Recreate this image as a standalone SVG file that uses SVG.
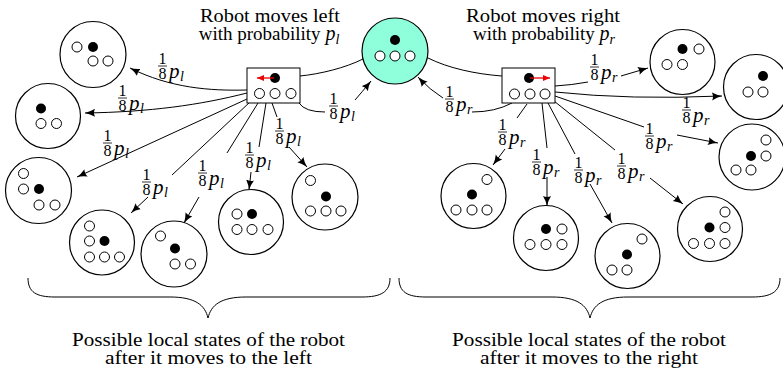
<svg xmlns="http://www.w3.org/2000/svg" width="783" height="370" viewBox="0 0 783 370" font-family="'Liberation Serif','DejaVu Serif','Times New Roman',serif">
<style>
.big{fill:#fff;stroke:#000;stroke-width:1.2}
.cen{fill:#8effda;stroke:#000;stroke-width:1.2}
.w{fill:#fff;stroke:#000;stroke-width:1}
.b{fill:#000}
.box{fill:#fff;stroke:#000;stroke-width:1}
.ln{fill:none;stroke:#000;stroke-width:1}
.ar{fill:none;stroke:#000;stroke-width:1;marker-end:url(#ah)}
.red{fill:none;stroke:#e00;stroke-width:1.3;marker-end:url(#rh)}
text{font-family:'Liberation Serif','DejaVu Serif','Times New Roman',serif;fill:#000}
.t{font-size:19px}
.lab{font-size:16px}
.fr{font-size:16px}
.pv{font-size:21px;font-style:italic}
.sb{font-size:14px;font-style:italic}
.bar{stroke:#000;stroke-width:0.8}
</style>
<defs>
<marker id="ah" markerWidth="12" markerHeight="10" refX="10" refY="4" orient="auto" markerUnits="userSpaceOnUse"><path d="M0,0 Q5,3 10,4 Q5,5 0,8 Q2,4 0,0 Z" fill="#000"/></marker>
<marker id="rh" markerWidth="9" markerHeight="8" refX="7" refY="3" orient="auto" markerUnits="userSpaceOnUse"><path d="M0,0 L7,3 L0,6 Z" fill="#e00"/></marker>
</defs>

<g id="connectors">
<path class="ln" d="M300,76 C320,74 345,68 363,59"/>
<path class="ln" d="M428,58 C448,68 475,74 502,76"/>
<path class="ln" d="M299,103 Q305,112 325,112"/>
<path class="ar" d="M355,100 Q362,92 371,81"/>
<path class="ln" d="M512,103 Q495,112 472,112"/>
<path class="ar" d="M443,98 Q430,90 418,77"/>
<path class="ar" d="M247,90 C210,91 170,88 130,68"/>
<path class="ar" d="M247,93 C200,105 150,112 85,113"/>
<path class="ar" d="M247,99 L77,177"/>
<path class="ln" d="M250,102 L172,175"/>
<path class="ar" d="M148,197 L131,213"/>
<path class="ln" d="M258,103 L227,153"/>
<path class="ar" d="M199,197 L184,223"/>
<path class="ln" d="M266,103 L259,147"/>
<path class="ar" d="M251,172 L249,190"/>
<path class="ln" d="M272,103 L277,117"/>
<path class="ar" d="M289,147 L307,167"/>
<path class="ln" d="M555,86 Q572,85 588,82"/>
<path class="ar" d="M621,76 L648,68"/>
<path class="ar" d="M555,92 Q630,100 722,96"/>
<path class="ln" d="M555,96 L644,127"/>
<path class="ar" d="M677,135 L718,143"/>
<path class="ln" d="M527,104 L517,118"/>
<path class="ar" d="M505,149 L493,165"/>
<path class="ln" d="M542,103 L547,148"/>
<path class="ar" d="M547,177 L547,206"/>
<path class="ln" d="M548,103 L575,154"/>
<path class="ar" d="M590,184 L612,223"/>
<path class="ln" d="M554,101 L615,150"/>
<path class="ar" d="M650,178 L683,204"/>
</g>

<g id="labels">
<g transform="translate(158,66)"><line class="bar" x1="0" y1="0" x2="9" y2="0"/><text class="lab"><tspan x="0.5" y="-2">1</tspan><tspan x="0.5" y="12.5">8</tspan><tspan class="pv" x="11" y="11.5">p</tspan><tspan class="sb" x="22" y="15">l</tspan></text></g>
<g transform="translate(118,98)"><line class="bar" x1="0" y1="0" x2="9" y2="0"/><text class="lab"><tspan x="0.5" y="-2">1</tspan><tspan x="0.5" y="12.5">8</tspan><tspan class="pv" x="11" y="11.5">p</tspan><tspan class="sb" x="22" y="15">l</tspan></text></g>
<g transform="translate(103,143)"><line class="bar" x1="0" y1="0" x2="9" y2="0"/><text class="lab"><tspan x="0.5" y="-2">1</tspan><tspan x="0.5" y="12.5">8</tspan><tspan class="pv" x="11" y="11.5">p</tspan><tspan class="sb" x="22" y="15">l</tspan></text></g>
<g transform="translate(142,182)"><line class="bar" x1="0" y1="0" x2="9" y2="0"/><text class="lab"><tspan x="0.5" y="-2">1</tspan><tspan x="0.5" y="12.5">8</tspan><tspan class="pv" x="11" y="11.5">p</tspan><tspan class="sb" x="22" y="15">l</tspan></text></g>
<g transform="translate(198,173)"><line class="bar" x1="0" y1="0" x2="9" y2="0"/><text class="lab"><tspan x="0.5" y="-2">1</tspan><tspan x="0.5" y="12.5">8</tspan><tspan class="pv" x="11" y="11.5">p</tspan><tspan class="sb" x="22" y="15">l</tspan></text></g>
<g transform="translate(245,155)"><line class="bar" x1="0" y1="0" x2="9" y2="0"/><text class="lab"><tspan x="0.5" y="-2">1</tspan><tspan x="0.5" y="12.5">8</tspan><tspan class="pv" x="11" y="11.5">p</tspan><tspan class="sb" x="22" y="15">l</tspan></text></g>
<g transform="translate(275,131)"><line class="bar" x1="0" y1="0" x2="9" y2="0"/><text class="lab"><tspan x="0.5" y="-2">1</tspan><tspan x="0.5" y="12.5">8</tspan><tspan class="pv" x="11" y="11.5">p</tspan><tspan class="sb" x="22" y="15">l</tspan></text></g>
<g transform="translate(329,106)"><line class="bar" x1="0" y1="0" x2="9" y2="0"/><text class="lab"><tspan x="0.5" y="-2">1</tspan><tspan x="0.5" y="12.5">8</tspan><tspan class="pv" x="11" y="11.5">p</tspan><tspan class="sb" x="22" y="15">l</tspan></text></g>
<g transform="translate(590,67)"><line class="bar" x1="0" y1="0" x2="9" y2="0"/><text class="lab"><tspan x="0.5" y="-2">1</tspan><tspan x="0.5" y="12.5">8</tspan><tspan class="pv" x="11" y="11.5">p</tspan><tspan class="sb" x="22" y="15">r</tspan></text></g>
<g transform="translate(682,110)"><line class="bar" x1="0" y1="0" x2="9" y2="0"/><text class="lab"><tspan x="0.5" y="-2">1</tspan><tspan x="0.5" y="12.5">8</tspan><tspan class="pv" x="11" y="11.5">p</tspan><tspan class="sb" x="22" y="15">r</tspan></text></g>
<g transform="translate(645,136)"><line class="bar" x1="0" y1="0" x2="9" y2="0"/><text class="lab"><tspan x="0.5" y="-2">1</tspan><tspan x="0.5" y="12.5">8</tspan><tspan class="pv" x="11" y="11.5">p</tspan><tspan class="sb" x="22" y="15">r</tspan></text></g>
<g transform="translate(498,132)"><line class="bar" x1="0" y1="0" x2="9" y2="0"/><text class="lab"><tspan x="0.5" y="-2">1</tspan><tspan x="0.5" y="12.5">8</tspan><tspan class="pv" x="11" y="11.5">p</tspan><tspan class="sb" x="22" y="15">r</tspan></text></g>
<g transform="translate(532,162)"><line class="bar" x1="0" y1="0" x2="9" y2="0"/><text class="lab"><tspan x="0.5" y="-2">1</tspan><tspan x="0.5" y="12.5">8</tspan><tspan class="pv" x="11" y="11.5">p</tspan><tspan class="sb" x="22" y="15">r</tspan></text></g>
<g transform="translate(574,170)"><line class="bar" x1="0" y1="0" x2="9" y2="0"/><text class="lab"><tspan x="0.5" y="-2">1</tspan><tspan x="0.5" y="12.5">8</tspan><tspan class="pv" x="11" y="11.5">p</tspan><tspan class="sb" x="22" y="15">r</tspan></text></g>
<g transform="translate(617,166)"><line class="bar" x1="0" y1="0" x2="9" y2="0"/><text class="lab"><tspan x="0.5" y="-2">1</tspan><tspan x="0.5" y="12.5">8</tspan><tspan class="pv" x="11" y="11.5">p</tspan><tspan class="sb" x="22" y="15">r</tspan></text></g>
<g transform="translate(445,99)"><line class="bar" x1="0" y1="0" x2="9" y2="0"/><text class="lab"><tspan x="0.5" y="-2">1</tspan><tspan x="0.5" y="12.5">8</tspan><tspan class="pv" x="11" y="11.5">p</tspan><tspan class="sb" x="22" y="15">r</tspan></text></g>
</g>

<g id="center">
<circle class="cen" cx="395" cy="51" r="33"/>
<circle class="b" cx="395" cy="40" r="5"/>
<circle class="w" cx="380" cy="56" r="5"/><circle class="w" cx="395" cy="56" r="5"/><circle class="w" cx="410" cy="56" r="5"/>
</g>

<g id="boxL">
<rect class="box" x="247" y="68" width="53" height="35"/>
<circle class="b" cx="275" cy="78" r="5"/>
<path class="red" d="M274,78 L257,78"/>
<circle class="w" cx="259.5" cy="93.5" r="5"/><circle class="w" cx="275" cy="93.5" r="5"/><circle class="w" cx="291" cy="93.5" r="5"/>
</g>
<g id="boxR">
<rect class="box" x="502" y="68" width="53" height="35"/>
<circle class="b" cx="529" cy="78" r="5"/>
<path class="red" d="M530,78 L550,78"/>
<circle class="w" cx="514.5" cy="94" r="5"/><circle class="w" cx="530" cy="94" r="5"/><circle class="w" cx="545" cy="94" r="5"/>
</g>

<g id="L1"><circle class="big" cx="93" cy="54.5" r="33"/><circle class="w" cx="77" cy="47" r="5"/><circle class="b" cx="93" cy="47" r="5"/><circle class="w" cx="93" cy="61" r="5"/><circle class="w" cx="108" cy="61" r="5"/></g>
<g id="L2"><circle class="big" cx="48" cy="116" r="32.5"/><circle class="b" cx="41" cy="108.5" r="5"/><circle class="w" cx="41" cy="123.5" r="5"/><circle class="w" cx="56.5" cy="123.5" r="5"/></g>
<g id="L3"><circle class="big" cx="38.5" cy="190.5" r="33"/><circle class="w" cx="23.5" cy="173.5" r="5"/><circle class="w" cx="23.5" cy="189" r="5"/><circle class="b" cx="39" cy="189" r="5"/><circle class="w" cx="39" cy="205" r="5"/><circle class="w" cx="55" cy="205" r="5"/></g>
<g id="L4"><circle class="big" cx="102" cy="242.5" r="32.5"/><circle class="w" cx="89.5" cy="226" r="5"/><circle class="w" cx="89.5" cy="241" r="5"/><circle class="b" cx="104.5" cy="241" r="5"/><circle class="w" cx="89.5" cy="257" r="5"/><circle class="w" cx="104.5" cy="257" r="5"/><circle class="w" cx="119.5" cy="257" r="5"/></g>
<g id="L5"><circle class="big" cx="174" cy="254" r="33"/><circle class="w" cx="160.5" cy="236" r="5"/><circle class="b" cx="175" cy="248.5" r="5"/><circle class="w" cx="175" cy="264" r="5"/><circle class="w" cx="190.5" cy="264" r="5"/></g>
<g id="L6"><circle class="big" cx="251" cy="222" r="32.5"/><circle class="w" cx="237" cy="214" r="5"/><circle class="b" cx="252" cy="214" r="5"/><circle class="w" cx="237" cy="229.5" r="5"/><circle class="w" cx="252" cy="229.5" r="5"/><circle class="w" cx="268" cy="229.5" r="5"/></g>
<g id="L7"><circle class="big" cx="325" cy="197" r="33"/><circle class="w" cx="310.5" cy="180.5" r="5"/><circle class="b" cx="326" cy="196.5" r="5"/><circle class="w" cx="310.5" cy="211" r="5"/><circle class="w" cx="326" cy="211" r="5"/><circle class="w" cx="341" cy="211" r="5"/></g>

<g id="R1"><circle class="big" cx="682.5" cy="62" r="32.5"/><circle class="b" cx="682.5" cy="49" r="5"/><circle class="w" cx="699" cy="49" r="5"/><circle class="w" cx="667" cy="64.5" r="5"/><circle class="w" cx="682.5" cy="64.5" r="5"/></g>
<g id="R2"><circle class="big" cx="756" cy="87" r="32.5"/><circle class="b" cx="763" cy="76" r="5"/><circle class="w" cx="748" cy="92" r="5"/><circle class="w" cx="763" cy="92" r="5"/></g>
<g id="R3"><circle class="big" cx="752" cy="157" r="33"/><circle class="w" cx="766" cy="140" r="5"/><circle class="b" cx="751" cy="156" r="5"/><circle class="w" cx="766" cy="156" r="5"/><circle class="w" cx="736" cy="170" r="5"/><circle class="w" cx="751" cy="170" r="5"/></g>
<g id="R4"><circle class="big" cx="473.5" cy="196" r="32.5"/><circle class="w" cx="487" cy="179.5" r="5"/><circle class="b" cx="472" cy="194.5" r="5"/><circle class="w" cx="456" cy="210" r="5"/><circle class="w" cx="472" cy="210" r="5"/><circle class="w" cx="487" cy="210" r="5"/></g>
<g id="R5"><circle class="big" cx="546" cy="238" r="32.5"/><circle class="b" cx="546" cy="229" r="5"/><circle class="w" cx="562" cy="229" r="5"/><circle class="w" cx="530" cy="244.5" r="5"/><circle class="w" cx="546" cy="244.5" r="5"/><circle class="w" cx="562" cy="244.5" r="5"/></g>
<g id="R6"><circle class="big" cx="627.5" cy="256" r="32.5"/><circle class="w" cx="642" cy="239" r="5"/><circle class="b" cx="627" cy="254.5" r="5"/><circle class="w" cx="612" cy="270" r="5"/><circle class="w" cx="627" cy="270" r="5"/></g>
<g id="R7"><circle class="big" cx="710" cy="229" r="32.5"/><circle class="w" cx="725" cy="212" r="5"/><circle class="b" cx="709.5" cy="227.5" r="5"/><circle class="w" cx="725" cy="227.5" r="5"/><circle class="w" cx="693.5" cy="243.5" r="5"/><circle class="w" cx="709.5" cy="243.5" r="5"/><circle class="w" cx="725" cy="243.5" r="5"/></g>

<g id="titles">
<text class="t" x="270" y="22" text-anchor="middle" textLength="140" lengthAdjust="spacingAndGlyphs">Robot moves left</text>
<text class="t" x="269" y="40" text-anchor="middle">with probability <tspan font-style="italic" font-size="20">p</tspan><tspan font-style="italic" font-size="14" dy="4">l</tspan></text>
<text class="t" x="543" y="22" text-anchor="middle" textLength="154" lengthAdjust="spacingAndGlyphs">Robot moves right</text>
<text class="t" x="544" y="40" text-anchor="middle">with probability <tspan font-style="italic" font-size="20">p</tspan><tspan font-style="italic" font-size="14" dy="4">r</tspan></text>
</g>

<g id="braces">
<path class="ln" stroke-width="1.2" d="M28,278 C28,292 36,297 55,297 L170,297 C195,297 205,305 208,318 C211,305 221,297 246,297 L362,297 C381,297 390,292 390,278"/>
<path class="ln" stroke-width="1.2" d="M399,278 C399,292 407,297 426,297 L552,297 C577,297 587,305 590,318 C593,305 603,297 628,297 L752,297 C771,297 780,292 780,278"/>
<text class="t" x="208.5" y="346" font-size="18" text-anchor="middle" textLength="273" lengthAdjust="spacingAndGlyphs">Possible local states of the robot</text>
<text class="t" x="208.5" y="364" font-size="18" text-anchor="middle" textLength="207" lengthAdjust="spacingAndGlyphs">after it moves to the left</text>
<text class="t" x="589" y="346" font-size="18" text-anchor="middle" textLength="274" lengthAdjust="spacingAndGlyphs">Possible local states of the robot</text>
<text class="t" x="589" y="364" font-size="18" text-anchor="middle" textLength="218" lengthAdjust="spacingAndGlyphs">after it moves to the right</text>
</g>
</svg>
